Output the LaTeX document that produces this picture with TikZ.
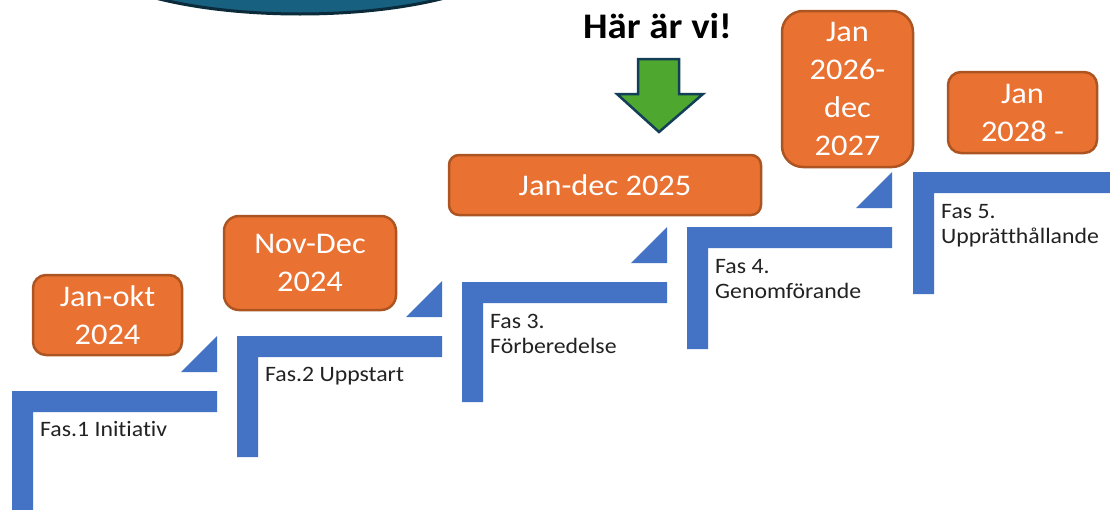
\documentclass[tikz,border=0pt]{standalone}
\usepackage{fontspec}
\setmainfont{Carlito}[FakeStretch=1.08, Ligatures=NoCommon]
\definecolor{stepblue}{HTML}{4472C4}
\definecolor{boxfill}{HTML}{E97132}
\definecolor{boxline}{HTML}{AD5522}
\definecolor{ovalfill}{HTML}{18607F}
\definecolor{ovalline}{HTML}{0B2A3A}
\definecolor{arrowfill}{HTML}{4EA72E}
\definecolor{arrowline}{HTML}{123F57}
\definecolor{labeltext}{HTML}{222222}
\tikzset{
  datebox/.style={draw=boxline, fill=boxfill, line width=2.5pt, text=white, inner sep=0pt, align=center,
    font=\fontsize{30}{38}\selectfont},
  phaselabel/.style={anchor=base west, inner sep=0pt, text=labeltext, font=\fontsize{22}{25}\selectfont},
  stepshape/.style={fill=stepblue, draw=none}
}
\begin{document}
\begin{tikzpicture}[x=1pt,y=-1pt]
\useasboundingbox (0,0) rectangle (1110,509);
\clip (0,0) rectangle (1110,509);
\fill[white] (0,0) rectangle (1110,509);
% oval at the top
\draw[fill=ovalfill, draw=ovalline, line width=3pt] (300,-51) ellipse [x radius=220, y radius=65];
% steps
\foreach \x/\t/\r/\b in {12/391/217/515, 237/336/442/457, 462/282/667/402, 687/227/892/349, 913/172/1115/294}{
  \fill[stepshape] (\x,\b) -- (\x,\t) -- (\r,\t) -- (\r,\t+21) -- (\x+21,\t+21) -- (\x+21,\b) -- cycle;
}
\foreach \r/\t in {217/391, 442/336, 667/282, 892/227}{
  \fill[stepshape] (\r-36,\t-19) -- (\r,\t-55) -- (\r,\t-19) -- cycle;
}
% phase labels
\node[phaselabel] (f1) at (40,436) {Fas.1 Initiativ};
\node[phaselabel] (f2) at (265,381) {Fas.2 Uppstart};
\node[phaselabel] (f3a) at (490,328) {Fas 3.};
\node[phaselabel] (f3b) at (490,353) {Förberedelse};
\node[phaselabel] (f4a) at (715,273) {Fas 4.};
\node[phaselabel] (f4b) at (715,298) {Genomförande};
\node[phaselabel] (f5a) at (941,218) {Fas 5.};
\node[phaselabel] (f5b) at (941,243) {Upprätthållande};
% date boxes
\node[datebox, minimum width=149pt, minimum height=80pt, rounded corners=13pt] (b1) at (107.5,315) {Jan-okt\\2024};
\node[datebox, minimum width=172pt, minimum height=94pt, rounded corners=15pt] (b2) at (310,263) {Nov-Dec\\2024};
\node[datebox, minimum width=312pt, minimum height=60pt, rounded corners=10pt] (b3) at (605,185) {Jan-dec 2025};
\node[datebox, minimum width=131pt, minimum height=156pt, rounded corners=21pt] (b4) at (847.5,89) {Jan\\2026-\\dec\\2027};
\node[datebox, minimum width=149pt, minimum height=81pt, rounded corners=13pt] (b5) at (1022.5,112.5) {Jan\\2028 -};
% here we are
\node[anchor=base, inner sep=0pt, font=\bfseries\fontsize{36}{40}\selectfont] (here) at (657.5,38) {Här är vi!};
\draw[fill=arrowfill, draw=arrowline, line width=2.5pt, line join=miter]
  (638,59) -- (679,59) -- (679,94) -- (703,94) -- (659,132) -- (617,94) -- (638,94) -- cycle;
\end{tikzpicture}
\end{document}
